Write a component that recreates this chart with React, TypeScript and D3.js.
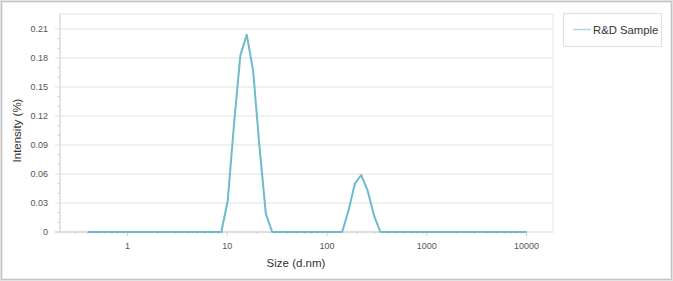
import React from "react";
import * as d3 from "d3";

const sizes = [
  0.4, 0.4632, 0.5365, 0.6213, 0.7195, 0.8332, 0.9649, 1.117, 1.294, 1.499,
  1.736, 2.01, 2.328, 2.696, 3.122, 3.615, 4.187, 4.849, 5.615, 6.503,
  7.531, 8.721, 10.1, 11.7, 13.54, 15.69, 18.17, 21.04, 24.36, 28.21,
  32.67, 37.84, 43.82, 50.75, 58.77, 68.06, 78.82, 91.28, 105.7, 122.4,
  141.8, 164.2, 190.1, 220.2, 255.0, 295.3, 342.0, 396.1, 458.7, 531.2,
  615.1, 712.4, 825.0, 955.4, 1106, 1281, 1484, 1718, 1990, 2305,
  2669, 3091, 3580, 4145, 4801, 5560, 6439, 7456, 8635, 10000,
];
const intensity = [
  0, 0, 0, 0, 0, 0, 0, 0, 0, 0,
  0, 0, 0, 0, 0, 0, 0, 0, 0, 0,
  0, 0, 0.032, 0.112, 0.183, 0.204, 0.167, 0.088, 0.019, 0,
  0, 0, 0, 0, 0, 0, 0, 0, 0, 0,
  0, 0.022, 0.05, 0.059, 0.043, 0.0175, 0, 0, 0, 0,
  0, 0, 0, 0, 0, 0, 0, 0, 0, 0,
  0, 0, 0, 0, 0, 0, 0, 0, 0, 0,
];
const xTicks = [1, 10, 100, 1000, 10000];
const yTicks = [0, 0.03, 0.06, 0.09, 0.12, 0.15, 0.18, 0.21];
const seriesName = "R&D Sample";
const xTitle = "Size (d.nm)";
const yTitle = "Intensity (%)";

const W = 673;
const H = 281;
const plot = { left: 60, right: 553, top: 14, bottom: 232 };
const lineColor = "#6ebacd";
const font = "'Liberation Sans', Arial, sans-serif";

export default function App() {
  const x = d3.scaleLog().domain([1, 10000]).range([127.5, 526.5]);
  const y = d3.scaleLinear().domain([0, 0.21]).range([plot.bottom, 29]);

  const data = sizes.map((s, i) => [s, intensity[i]] as [number, number]);
  const line = d3
    .line<[number, number]>()
    .x((d) => x(d[0]))
    .y((d) => y(d[1]));

  const minorX: number[] = [];
  for (let e = -1; e <= 3; e++) {
    for (let m = 2; m <= 9; m++) {
      const v = m * Math.pow(10, e);
      if (v >= 0.3 && v <= 9000) minorX.push(v);
    }
  }
  const minorY: number[] = [];
  for (let i = 1; i <= 21; i++) {
    const v = i / 100;
    if (i % 3 !== 0) minorY.push(v);
  }

  return (
    <svg
      width={W}
      height={H}
      style={{ position: "absolute", left: 0, top: 0, background: "#fff" }}
      fontFamily={font}
    >
      {/* outer frame */}
      <rect x={0.5} y={0.5} width={W - 1} height={H - 1} fill="none" stroke="#e2e2e2" />
      <rect x={1.5} y={1.5} width={W - 3} height={H - 3} fill="none" stroke="#c4c4c4" />
      <rect x={2.5} y={2.5} width={W - 5} height={H - 5} fill="none" stroke="#ececec" />

      {/* plot frame */}
      <rect
        x={plot.left}
        y={plot.top}
        width={plot.right - plot.left}
        height={plot.bottom - plot.top}
        fill="none"
        stroke="#e4e4e4"
      />

      {/* gridlines */}
      {yTicks.map((t) => (
        <line
          key={"g" + t}
          x1={plot.left - 5}
          x2={plot.right}
          y1={y(t)}
          y2={y(t)}
          stroke="#e2e2e2"
          strokeWidth={1.2}
        />
      ))}

      {/* y axis */}
      <line x1={plot.left} x2={plot.left} y1={plot.top} y2={plot.bottom} stroke="#d4d4d4" />
      {minorY.map((t) => (
        <line key={"my" + t} x1={plot.left - 2.5} x2={plot.left} y1={y(t)} y2={y(t)} stroke="#d0d0d0" />
      ))}
      {yTicks.map((t) => (
        <text
          key={"yl" + t}
          x={48}
          y={y(t)}
          dy="0.35em"
          textAnchor="end"
          fontSize={9}
          fill="#555"
        >
          {t === 0 ? "0" : d3.format(".2f")(t)}
        </text>
      ))}

      {/* x axis */}
      <line x1={plot.left - 5} x2={x(10000)} y1={plot.bottom} y2={plot.bottom} stroke="#cfcfcf" />
      {minorX.map((t) => (
        <line key={"mx" + t} x1={x(t)} x2={x(t)} y1={plot.bottom} y2={plot.bottom + 2} stroke="#cfcfcf" />
      ))}
      {xTicks.map((t) => (
        <g key={"xt" + t}>
          <line x1={x(t)} x2={x(t)} y1={plot.bottom} y2={plot.bottom + 4} stroke="#cfcfcf" />
          <text x={x(t)} y={plot.bottom + 17} textAnchor="middle" fontSize={9} fill="#555">
            {String(t)}
          </text>
        </g>
      ))}

      {/* titles */}
      <text x={296} y={267} textAnchor="middle" fontSize={11.5} fill="#333">
        {xTitle}
      </text>
      <text
        transform={`translate(20.5,130.5) rotate(-90)`}
        textAnchor="middle"
        fontSize={11.5}
        fill="#333"
      >
        {yTitle}
      </text>

      {/* series */}
      <path d={line(data) || ""} fill="none" stroke={lineColor} strokeWidth={2} strokeLinejoin="round" />

      {/* legend */}
      <rect x={563.5} y={13.5} width={98} height={33} fill="#fff" stroke="#e2e2e2" strokeWidth={1.2} />
      <line x1={573} x2={591} y1={29.5} y2={29.5} stroke="#a9d6e2" strokeWidth={1.5} />
      <text x={593} y={33.5} fontSize={11.3} fill="#333">
        {seriesName}
      </text>
    </svg>
  );
}
